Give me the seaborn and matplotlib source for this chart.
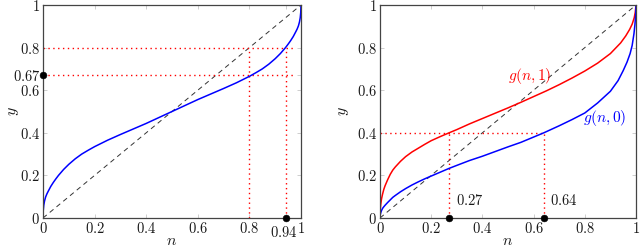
import numpy as np
import pandas as pd
import matplotlib
matplotlib.use("Agg")
import matplotlib.pyplot as plt
import matplotlib.transforms as mtransforms
import seaborn as sns

# ---- data ----
n_left = [0, 0.001, 0.003, 0.006, 0.01, 0.015, 0.02, 0.03, 0.04, 0.05, 0.06, 0.08, 0.1, 0.125,
          0.15, 0.175, 0.2, 0.25, 0.3, 0.35, 0.4, 0.45, 0.5, 0.55, 0.6, 0.65, 0.7, 0.75, 0.8,
          0.825, 0.85, 0.875, 0.9, 0.92, 0.94, 0.95, 0.96, 0.97, 0.98, 0.985, 0.99, 0.994,
          0.997, 0.999, 1]
y_left = [0, 0.035, 0.06, 0.08, 0.098, 0.113, 0.125, 0.148, 0.167, 0.184, 0.2, 0.228, 0.252, 0.278,
          0.3, 0.318, 0.335, 0.365, 0.392, 0.418, 0.444, 0.472, 0.5, 0.528, 0.556, 0.582, 0.608,
          0.635, 0.665, 0.682, 0.7, 0.722, 0.748, 0.772, 0.8, 0.816, 0.833, 0.852, 0.875, 0.887,
          0.902, 0.92, 0.94, 0.965, 1]

n_red = [0, 0.001, 0.003, 0.006, 0.01, 0.015, 0.02, 0.03, 0.04, 0.05, 0.06, 0.08, 0.1, 0.125,
         0.15, 0.175, 0.2, 0.235, 0.27, 0.3, 0.35, 0.4, 0.45, 0.5, 0.55, 0.6, 0.65, 0.7, 0.75,
         0.8, 0.85, 0.9, 0.94, 0.96, 0.975, 0.985, 0.993, 0.997, 1]
g_n1 = [0, 0.04, 0.065, 0.09, 0.112, 0.135, 0.152, 0.18, 0.205, 0.225, 0.24, 0.266, 0.288, 0.31,
        0.328, 0.346, 0.363, 0.382, 0.4, 0.415, 0.442, 0.467, 0.492, 0.517, 0.543, 0.57, 0.597,
        0.626, 0.657, 0.69, 0.727, 0.772, 0.822, 0.855, 0.885, 0.91, 0.94, 0.965, 1]

n_blue = [0, 0.001, 0.003, 0.006, 0.01, 0.015, 0.02, 0.03, 0.04, 0.05, 0.06, 0.08, 0.1, 0.125,
          0.15, 0.175, 0.2, 0.235, 0.27, 0.3, 0.35, 0.4, 0.45, 0.5, 0.55, 0.6, 0.64, 0.7, 0.75,
          0.8, 0.85, 0.9, 0.93, 0.95, 0.965, 0.977, 0.985, 0.992, 0.996, 0.999, 1]
g_n0 = [0, 0.015, 0.025, 0.035, 0.045, 0.053, 0.06, 0.073, 0.085, 0.097, 0.106, 0.123, 0.138, 0.155,
        0.17, 0.184, 0.197, 0.215, 0.233, 0.247, 0.27, 0.29, 0.312, 0.334, 0.355, 0.38, 0.4, 0.433,
        0.462, 0.493, 0.54, 0.595, 0.645, 0.692, 0.732, 0.772, 0.81, 0.865, 0.91, 0.96, 1]

left_yticks = [0, 0.2, 0.4, 0.6, 0.67, 0.8, 1]
left_xticks = [0, 0.2, 0.4, 0.6, 0.8, 0.94, 1]
std_ticks = [0, 0.2, 0.4, 0.6, 0.8, 1]
left_points_x = [0, 0.94]
left_points_y = [0.67, 0]
right_points_x = [0.27, 0.64]
right_points_y = [0, 0]

def fmt(v):
    return "$%s$" % ("%g" % v)

sns.set_theme(style="white")
plt.rcParams["mathtext.fontset"] = "cm"
plt.rcParams["font.family"] = ["DejaVu Serif"]

fig = plt.figure(figsize=(6.4, 2.5), dpi=100)
axL = fig.add_axes([43/640, 1-218/250, 258/640, 213/250])
axR = fig.add_axes([380/640, 1-218/250, 256/640, 213/250])

red = "#ff0000"
blue = "#0000ff"
fs = 10.5
tc = "#1a1a1a"

for ax in (axL, axR):
    ax.set_xlim(0, 1)
    ax.set_ylim(0, 1)
    for s in ax.spines.values():
        s.set_color("#444444")
        s.set_linewidth(0.9)
    ax.tick_params(direction="in", length=3, width=0.5, color="#bbbbbb",
                   top=True, right=True, bottom=True, left=True,
                   labelsize=fs, pad=2, labelcolor=tc)
    diag = pd.DataFrame({"n": [0, 1], "y": [0, 1]})
    sns.lineplot(data=diag, x="n", y="y", ax=ax, color="#333333", lw=0.7,
                 linestyle=(0, (5, 4)))

dot = dict(color=red, lw=1.0, linestyle=(0, (1, 2.5)))

# ---- left panel ----
axL.set_xticks(left_xticks)
axL.set_xticklabels([fmt(v) for v in left_xticks])
axL.set_yticks(left_yticks)
axL.set_yticklabels([fmt(v) for v in left_yticks])
# the 0.94 label sits a little lower and to the left, as in the reference
lab094 = axL.get_xticklabels()[left_xticks.index(0.94)]
off = mtransforms.ScaledTranslation(-2/100, -4/100, fig.dpi_scale_trans)
lab094.set_transform(lab094.get_transform() + off)

axL.plot([0, 0.977], [0.8, 0.8], **dot)
axL.plot([0, 0.977], [0.67, 0.67], **dot)
axL.plot([0.8, 0.8], [0, 0.8], **dot)
axL.plot([0.94, 0.94], [0, 0.8], **dot)
sns.lineplot(x=n_left, y=y_left, ax=axL, color=blue, lw=1.1, sort=False, estimator=None)
sns.scatterplot(x=left_points_x, y=left_points_y, ax=axL, color="black", s=24,
                edgecolor="black", zorder=5, clip_on=False)
axL.set_xlabel("$n$", fontsize=fs+1, color=tc)
axL.set_ylabel("$y$", fontsize=fs+1, labelpad=-6, color=tc)

# ---- right panel ----
axR.set_xticks(std_ticks)
axR.set_xticklabels([fmt(v) for v in std_ticks])
axR.set_yticks(std_ticks)
axR.set_yticklabels([fmt(v) for v in std_ticks])
axR.plot([0, 0.64], [0.4, 0.4], **dot)
axR.plot([0.27, 0.27], [0, 0.4], **dot)
axR.plot([0.64, 0.64], [0, 0.4], **dot)
sns.lineplot(x=n_red, y=g_n1, ax=axR, color=red, lw=1.1, sort=False, estimator=None)
sns.lineplot(x=n_blue, y=g_n0, ax=axR, color=blue, lw=1.1, sort=False, estimator=None)
sns.scatterplot(x=right_points_x, y=right_points_y, ax=axR, color="black", s=24,
                edgecolor="black", zorder=5, clip_on=False)
axR.text(0.295, 0.045, "$0.27$", fontsize=fs, color=tc, ha="left", va="bottom")
axR.text(0.665, 0.045, "$0.64$", fontsize=fs, color=tc, ha="left", va="bottom")
axR.text(0.585, 0.665, "$g(n,1)$", fontsize=fs+0.5, color=red, ha="center", va="center")
axR.text(0.878, 0.47, "$g(n,0)$", fontsize=fs+0.5, color=blue, ha="center", va="center")
axR.set_xlabel("$n$", fontsize=fs+1, color=tc)
axR.set_ylabel("$y$", fontsize=fs+1, labelpad=4, color=tc)

# x labels at a fixed position just below the tick labels
for ax in (axL, axR):
    ax.xaxis.label.set_va("center")
    ax.xaxis.set_label_coords(0.5, -0.105)

fig.savefig("out.png", dpi=100)
